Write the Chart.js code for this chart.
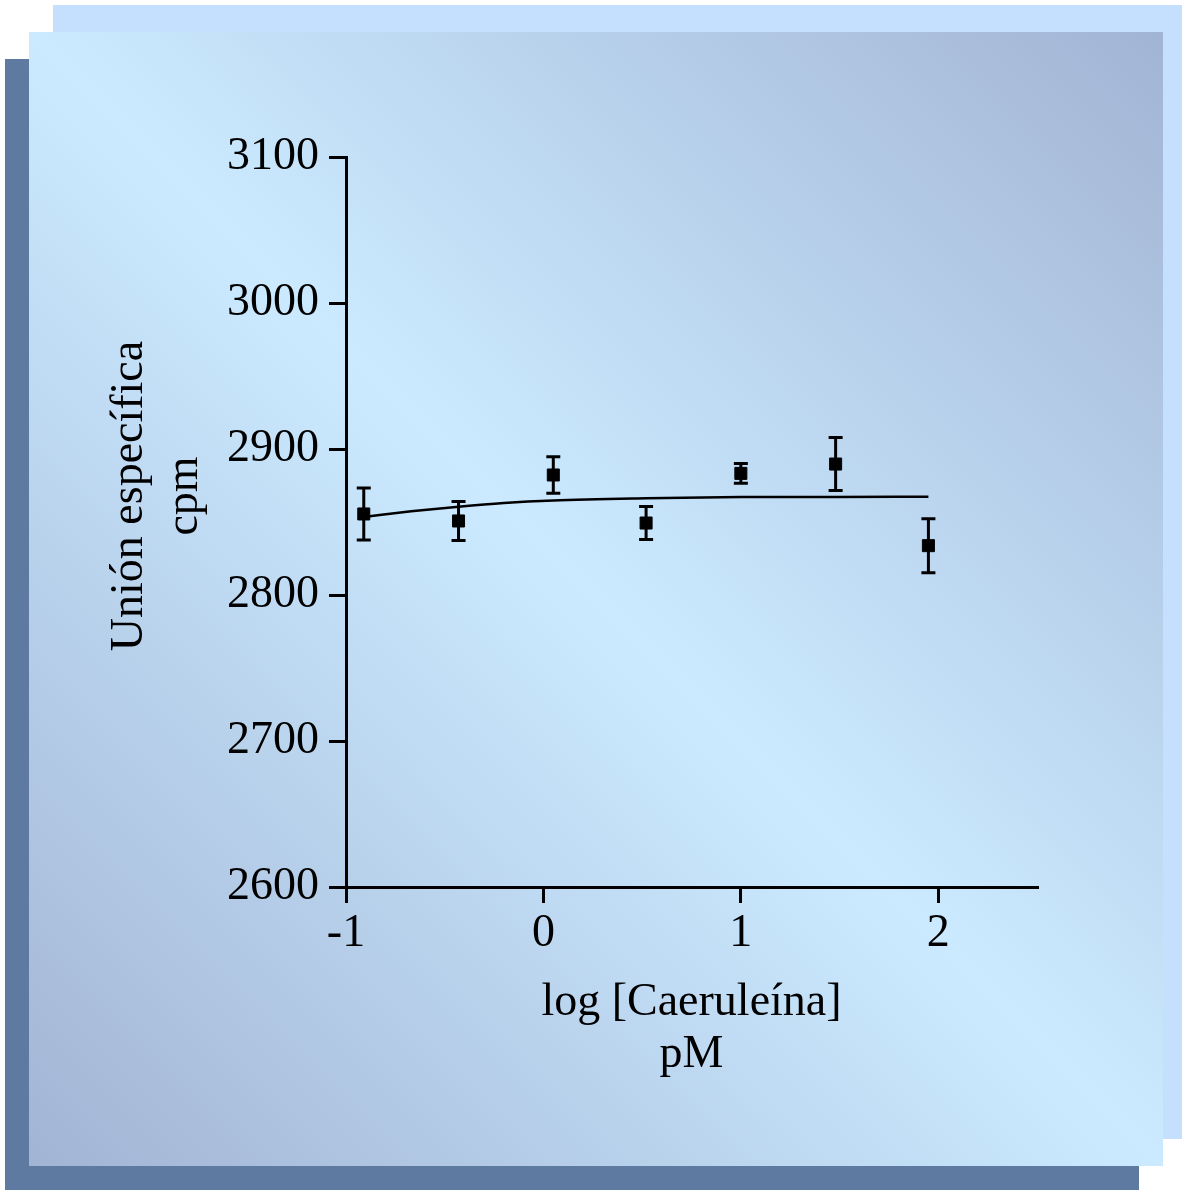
<!DOCTYPE html>
<html lang="es">
<head>
<meta charset="UTF-8">
<title>Unión específica</title>
<script src="https://cdn.jsdelivr.net/npm/chart.js"></script>
<style>
    body { margin: 0; width: 1182px; height: 1190px; position: relative; overflow: hidden; background: #fff; }
    .panel { position: absolute; }
    #back-dark { left: 5px; top: 59px; width: 1134px; height: 1131px; background: #5f7aa0; }
    #back-light { left: 53px; top: 5px; width: 1129px; height: 1134px; background: #c5dfff; }
    #front { left: 29px; top: 32px; width: 1134px; height: 1134px;
             background: linear-gradient(to bottom left, #a2b4d4 0%, #cbeaff 50%, #a2b4d4 100%); }
    canvas { position: absolute; left: 0; top: 0; }
</style>
</head>
<body>
    <div class="panel" id="back-dark"></div>
    <div class="panel" id="back-light"></div>
    <div class="panel" id="front"></div>
    <canvas id="binding" width="1182" height="1190"></canvas>

    <script>
        // log [Caeruleína] (pM) and mean specific binding (cpm) with SEM
        const logConc = [-0.91, -0.43, 0.05, 0.52, 1.00, 1.48, 1.95];
        const binding = [2855.5, 2850.7, 2882.2, 2849.3, 2883.3, 2889.7, 2833.8];
        const sem = [17.8, 13.4, 12.5, 11.3, 6.8, 18.2, 18.5];

        // fitted curve
        const fitX = [-0.91, -0.67, -0.43, -0.20, 0.05, 0.52, 1.00, 1.48, 1.95];
        const fitY = [2853.5, 2857.3, 2860.5, 2863.0, 2864.7, 2866.2, 2867.1, 2867.2, 2867.3];

        const yTitleLines = ['Unión específica', 'cpm'];
        const xTitleLines = ['log [Caeruleína]', 'pM'];

        const fontFamily = '"Liberation Serif", "Times New Roman", serif';
        const serif = { family: fontFamily, size: 46, lineHeight: 1.13 };

        // vertical SEM bars with caps
        const errorBars = {
            id: 'errorBars',
            afterDatasetsDraw(chart) {
                const meta = chart.getDatasetMeta(1);
                const yScale = chart.scales.y;
                const c = chart.ctx;
                c.save();
                c.strokeStyle = '#000';
                c.lineWidth = 3;
                meta.data.forEach((pt, i) => {
                    const top = yScale.getPixelForValue(binding[i] + sem[i]);
                    const bot = yScale.getPixelForValue(binding[i] - sem[i]);
                    c.beginPath();
                    c.moveTo(pt.x, top); c.lineTo(pt.x, bot);
                    c.moveTo(pt.x - 7, top); c.lineTo(pt.x + 7, top);
                    c.moveTo(pt.x - 7, bot); c.lineTo(pt.x + 7, bot);
                    c.stroke();
                });
                c.restore();
            }
        };

        // rotated two-line y title, sitting a little above the axis middle
        const yTitle = {
            id: 'yTitle',
            afterDraw(chart) {
                const c = chart.ctx;
                c.save();
                c.translate(0, 496);
                c.rotate(-Math.PI / 2);
                c.font = '46px ' + fontFamily;
                c.fillStyle = '#000';
                c.textAlign = 'center';
                c.textBaseline = 'middle';
                c.fillText(yTitleLines[0], 0, 130);
                c.fillText(yTitleLines[1], 0, 185);
                c.restore();
            }
        };

        const axisGrid = { drawOnChartArea: false, drawTicks: true, color: '#000', lineWidth: 3 };

        new Chart(document.getElementById('binding').getContext('2d'), {
            type: 'scatter',
            data: {
                datasets: [{
                    type: 'line',
                    label: 'ajuste',
                    data: fitX.map((x, i) => ({ x: x, y: fitY[i] })),
                    borderColor: '#000',
                    borderWidth: 2.5,
                    pointRadius: 0,
                    cubicInterpolationMode: 'monotone',
                    fill: false
                }, {
                    label: 'Unión específica',
                    data: logConc.map((x, i) => ({ x: x, y: binding[i] })),
                    pointStyle: 'rect',
                    pointRadius: 8.5,
                    backgroundColor: '#000',
                    borderColor: '#000',
                    borderWidth: 1
                }]
            },
            options: {
                responsive: false,
                animation: false,
                devicePixelRatio: 1,
                layout: { padding: { left: 0, right: 145, top: 157, bottom: 0 } },
                plugins: { legend: { display: false }, tooltip: { enabled: false } },
                scales: {
                    x: {
                        type: 'linear',
                        position: 'bottom',
                        min: -1,
                        max: 2.5,
                        border: { color: '#000', width: 3 },
                        grid: { ...axisGrid, tickLength: 16 },
                        ticks: { stepSize: 1, includeBounds: false, color: '#000', font: serif, padding: 5,
                                 callback: v => String(v) },
                        title: {
                            display: true,
                            text: xTitleLines,
                            color: '#000',
                            font: serif,
                            padding: { top: 0, bottom: 109 }
                        },
                        afterFit(scale) { scale.height = 303; }
                    },
                    y: {
                        type: 'linear',
                        position: 'left',
                        min: 2600,
                        max: 3100,
                        border: { color: '#000', width: 3 },
                        grid: { ...axisGrid, tickLength: 17 },
                        ticks: { stepSize: 100, color: '#000', font: serif, padding: 10,
                                 callback: v => String(v) },
                        title: { display: false },
                        afterFit(scale) { scale.width = 346; }
                    }
                }
            },
            plugins: [errorBars, yTitle]
        });
    </script>
</body>
</html>
